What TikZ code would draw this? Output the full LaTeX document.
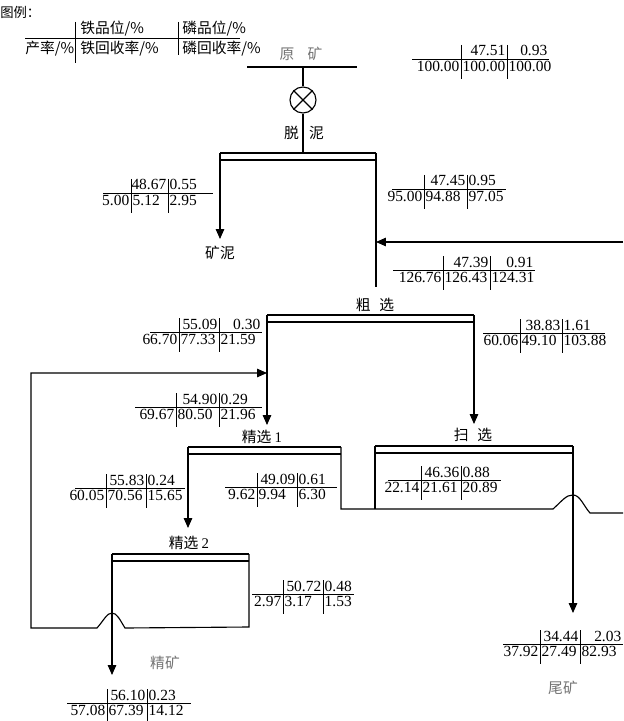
\documentclass[tikz,border=0pt]{standalone}
\usepackage{fontspec}
\setmainfont{Liberation Serif}
\newfontfamily\cjk{Noto Sans CJK SC}
\usepackage{tikz}
\usetikzlibrary{arrows.meta}
\usetikzlibrary{positioning}

\tikzset{
  flow/.style={line width=0.8pt},
  bar/.style={line width=2pt},
  tab/.style={line width=0.7pt},
  feed/.style={flow,-{Triangle[width=6pt,length=7pt]}},
  lbl/.style={font=\cjk\fontsize{10.5}{12}\selectfont,inner sep=0pt},
  prod/.style={lbl,text=black!55},
  num/.style={font=\fontsize{11}{12}\selectfont,inner xsep=1pt,inner ysep=0pt},
}

% thick bar of a cell with the thin line below it
\newcommand{\cellbar}[4]{%
  \coordinate (#1l) at (#2,#4);
  \coordinate (#1r) at (#3,#4);
  \draw[bar] (#1l) -- (#1r);
  \draw[flow] (#2,#4+7) -- (#3,#4+7);
}

\begin{document}
\begin{tikzpicture}[x=0.025cm,y=-0.025cm]
\useasboundingbox (0,0) rectangle (623,721);

    % legend
    \node[lbl,anchor=west,font=\cjk\fontsize{9.5}{11}\selectfont] (lgTitle) at (0,12) {图例：};
    \draw[tab] (25,38) -- (240,38);
    \draw[tab] (75,22) -- (75,63);
    \draw[tab] (178,22) -- (178,55);
    \node[lbl,anchor=west] (lgFe) at (80,29) {铁品位/\%};
    \node[lbl,anchor=west] (lgP) at (182,29) {磷品位/\%};
    \node[lbl,anchor=west] (lgY) at (25,49) {产率/\%};
    \node[lbl,anchor=west] (lgFeR) at (80,49) {铁回收率/\%};
    \node[lbl,anchor=west] (lgPR) at (182,49) {磷回收率/\%};

    % data tables: grade above the line, yield and recoveries below
    \foreach \n/\xo/\xa/\xb/\xe/\y/\ta/\tb/\tx/\an/\ba/\bb/\bc in {
      raw/412/461/507/549/59/47.51/0.93/549/east/100.00/100.00/100.00,
      slime/103/131/168/213/193/48.67/0.55/168/west/5.00/5.12/2.95,
      desl/392/424/467/506/189/47.45/0.95/467/west/95.00/94.88/97.05,
      rfeed/393/443/490/535/270/47.39/0.91/535/east/126.76/126.43/124.31,
      rconc/150/179/219/262/332/55.09/0.30/262/east/66.70/77.33/21.59,
      rtail/483/520/562/605/333/38.83/1.61/562/west/60.06/49.10/103.88,
      cfeed/135/176/219/262/407/54.90/0.29/219/west/69.67/80.50/21.96,
      conc1/75/106/146/185/488/55.83/0.24/146/west/60.05/70.56/15.65,
      tail1/225/257/297/337/487/49.09/0.61/297/west/9.62/9.94/6.30,
      sconc/388/421/461/501/480/46.36/0.88/461/west/22.14/21.61/20.89,
      tail2/252/283/323/354/594/50.72/0.48/323/west/2.97/3.17/1.53,
      final/67/107/147/191/703/56.10/0.23/147/west/57.08/67.39/14.12,
      tails/503/540/580/623/644/34.44/2.03/623/east/37.92/27.49/82.93} {
      \draw[tab] (\xo,\y) -- (\xe,\y);
      \draw[tab] (\xa,\y-14) -- (\xa,\y+20);
      \draw[tab] (\xb,\y-14) -- (\xb,\y+20);
      \node[num,anchor=base east] (\n-ta) at (\xb,\y-3) {\ta};
      \node[num,anchor=base \an] (\n-tb) at (\tx,\y-3) {\tb};
      \node[num,anchor=north east] (\n-ba) at (\xa,\y+2) {\ba};
      \node[num,anchor=north west] (\n-bb) at (\xa,\y+2) {\bb};
      \node[num,anchor=north west] (\n-bc) at (\xb,\y+2) {\bc};
    }

    % raw ore and desliming
    \coordinate (rawL) at (247,67);
    \coordinate (rawR) at (357,67);
    \coordinate (rawM) at (303,67);
    \draw[flow] (rawL) -- (rawR);
    \node[prod] (rawLbl) at (301,54) {原\hspace{0.9em}矿};
    \node[draw,circle,flow,minimum size=0.65cm,inner sep=0pt] (mix) at (303,100) {};
    \draw[flow] (mix.north west) -- (mix.south east) (mix.north east) -- (mix.south west);
    \draw[flow] (rawM) -- (mix);
    \node[lbl] (dmLbl) at (304,133) {脱\hspace{0.7em}泥};
    \cellbar{dm}{220}{376}{153}
    \draw[flow] (mix) -- (mix |- dml);
    \coordinate (slimeTip) at (220,239);
    \draw[feed] (dml) -- (slimeTip);
    \node[lbl] (slimeLbl) at (220,253) {矿泥};
    \coordinate (dmEnd) at (376,287);
    \draw[flow] (dmr) -- (dmEnd);
    \coordinate (retIn) at (623,242);
    \draw[feed] (retIn) -- (retIn -| dmr);

    % roughing
    \node[lbl] (rgLbl) at (375,305) {粗\hspace{0.6em}选};
    \cellbar{rg}{267}{474}{315}
    \coordinate (rgTip) at (267,425);
    \coordinate (scTip) at (474,424);
    \draw[feed] (rgl) -- (rgTip);
    \draw[feed] (rgr) -- (scTip);

    % cleaner 1
    \node[lbl] (c1Lbl) at (262,437) {精选~{\rmfamily 1}};
    \cellbar{c1}{188}{341}{447}
    \coordinate (c1Tip) at (188,528);
    \draw[feed] (c1l) -- (c1Tip);

    % scavenging
    \node[lbl] (scLbl) at (473,435) {扫\hspace{0.6em}选};
    \cellbar{sc}{375}{573}{446}
    \coordinate (tailTip) at (573,613);
    \draw[feed] (scr) -- (tailTip);
    \draw[flow] (scl) -- (375,509);
    \node[prod] (tailLbl) at (563,688) {尾矿};

    % middlings back to roughing, jumping over the tailings line
    \draw[flow] (c1r) -- (341,509) -- (553,509)
      .. controls (563,500) and (566,495) .. (573,495)
      .. controls (580,495) and (583,505) .. (590,513) -- (623,513);

    % cleaner 2
    \node[lbl] (c2Lbl) at (189,543) {精选~{\rmfamily 2}};
    \cellbar{c2}{112}{249}{554}
    \coordinate (concTip) at (112,675);
    \draw[feed] (c2l) -- (concTip);
    \node[prod] (concLbl) at (165,663) {精矿};
    \draw[feed] (c2r) -- (249,627) -- (125,628)
      .. controls (120,620) and (117,613) .. (112,613)
      .. controls (107,613) and (104,620) .. (97,628)
      -- (31,628) -- (31,373) -- (rgl |- 0,373);

\end{tikzpicture}
\end{document}
